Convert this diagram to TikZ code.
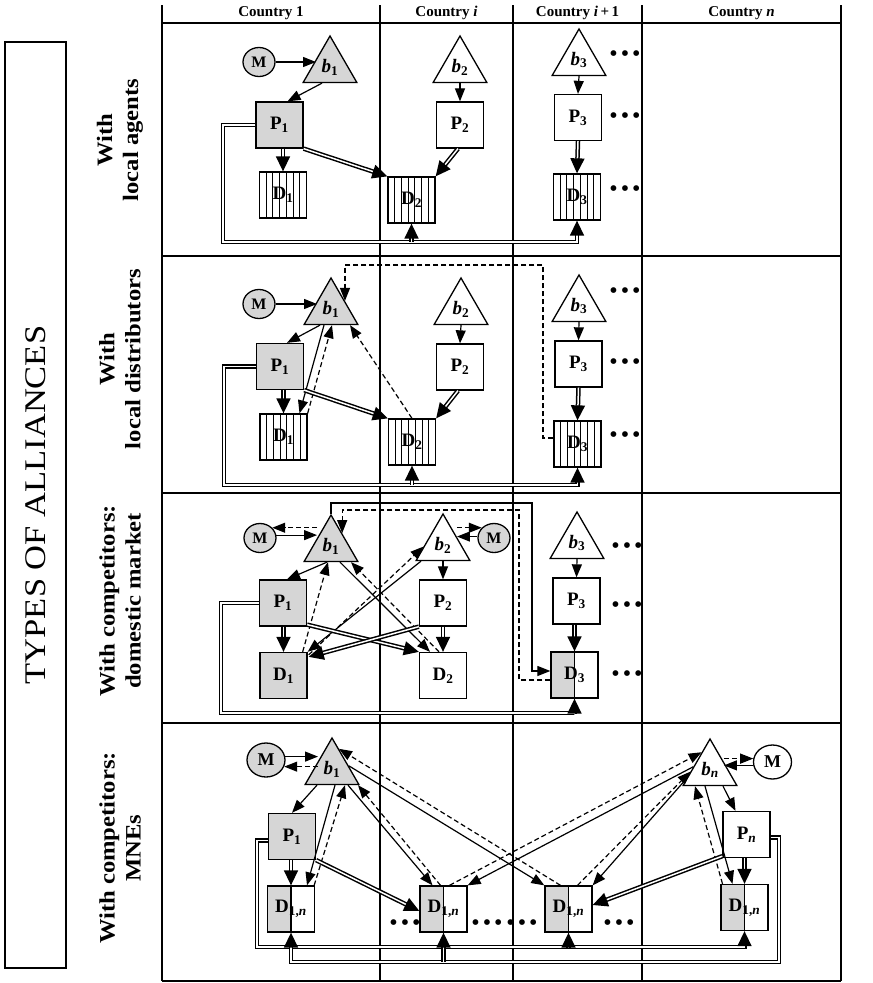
\documentclass[tikz,border=0pt]{standalone}
\usepackage{fontspec}
\setmainfont{Liberation Serif}
\usetikzlibrary{shapes.geometric, arrows.meta, calc}
\definecolor{lgray}{RGB}{214,214,214}

\newcommand{\Pl}[1]{\textbf{P}\textsubscript{\textbf{#1}}}
\newcommand{\bl}[1]{\textbf{\textit{b}}\textsubscript{\textbf{#1}}}
\newcommand{\Dl}[1]{\textbf{D}\textsubscript{\textbf{#1}}}
\newcommand{\etcdots}{\textbullet\hspace{3pt}\textbullet\hspace{3pt}\textbullet}

\begin{document}
\begin{tikzpicture}[x=1pt, y=-1pt,
  frm/.style={line width=1.3pt},
  nfont/.style={font=\fontsize{19}{19}\selectfont},
  tri/.style={regular polygon, regular polygon sides=3, draw, line width=1.3pt,
              minimum size=62pt, inner sep=0pt, nfont},
  box/.style={rectangle, draw, line width=1.3pt, minimum width=47pt,
              minimum height=46pt, inner sep=0pt, nfont},
  hatch/.style={box, path picture={
      \foreach \k in {1,...,6}
        \draw[line width=0.9pt] ($(path picture bounding box.south west)!\k/7!(path picture bounding box.south east)$)
          -- ($(path picture bounding box.north west)!\k/7!(path picture bounding box.north east)$);}},
  halfbox/.style={box, path picture={
      \fill[lgray] (path picture bounding box.south west) rectangle (path picture bounding box.north);
      \draw[line width=1.2pt] (path picture bounding box.south) -- (path picture bounding box.north);}},
  mnode/.style={ellipse, draw, fill=lgray, line width=1.3pt, minimum width=32pt,
                minimum height=29pt, inner sep=0pt, font=\fontsize{16}{16}\selectfont\bfseries},
  mbig/.style={mnode, minimum width=38pt, minimum height=34pt, font=\fontsize{18}{18}\selectfont\bfseries},
  etc/.style={inner sep=0pt, font=\fontsize{24}{24}\selectfont},
  hdr/.style={font=\fontsize{15}{15}\selectfont\bfseries},
  rowlbl/.style={rotate=90, xscale=1.12, align=center, font=\fontsize{22}{26}\selectfont\bfseries},
  arr/.style={-{Triangle[length=13pt,width=10pt]}, line width=1.2pt},
  dsh/.style={arr, dash pattern=on 5pt off 3pt},
  dbl/.style={double, double distance=1.5pt, line width=1.5pt, -{Triangle[length=15pt,width=14pt]}},
]
  \useasboundingbox (0,0) rectangle (873,983);

  % table
  \foreach \x in {162,380,513,642,841} \draw[frm] (\x,5) -- (\x,981);
  \foreach \y in {23,256,493,723,981} \draw[frm] (162,\y) -- (841,\y);
  \draw[frm] (5,42) rectangle (66,968);
  \node[rotate=90, xscale=1.15, font=\fontsize{30}{30}\selectfont] (types) at (36,505) {TYPES OF ALLIANCES};

  \node[hdr] (ca) at (271,13) {Country 1};
  \node[hdr] (cb) at (446.5,13) {Country \textit{i}};
  \node[hdr] (cc) at (577.5,13) {Country \textit{i}\,+\,1};
  \node[hdr] (cd) at (741.5,13) {Country \textit{n}};

  \node[rowlbl] (ra) at (120,140) {With\\local agents};
  \node[rowlbl] (rb) at (120,359) {With\\local distributors};
  \node[rowlbl] (rc) at (120,601) {With competitors:\\domestic market};
  \node[rowlbl] (rd) at (120,848) {With competitors:\\MNEs};

  % row 1: local agents
  \node[mnode] (m1a) at (259,62) {M};
  \node[tri, fill=lgray] (b1a) at (330,67) {\bl{1}};
  \node[box, fill=lgray] (p1a) at (279.5,125) {\Pl{1}};
  \node[hatch] (d1a) at (283,195) {\Dl{1}};
  \node[tri] (b2a) at (460,67) {\bl{2}};
  \node[box] (p2a) at (460,125) {\Pl{2}};
  \node[hatch] (d2a) at (411.5,200) {\Dl{2}};
  \node[tri] (b3a) at (579,60) {\bl{3}};
  \node[box] (p3a) at (578,117.5) {\Pl{3}};
  \node[hatch] (d3a) at (577,197) {\Dl{3}};
  \node[etc] (ea1) at (625,56) {\etcdots};
  \node[etc] (ea2) at (625,118) {\etcdots};
  \node[etc] (ea3) at (625,191) {\etcdots};

  \draw[arr] (m1a.east) -- (m1a.east -| b1a.side 1);
  \draw[arr] ($(b1a.side 2)+(-8,0)$) -- ($(p1a.north)+(8,0)$);
  \draw[arr] (b2a.side 2) -- (p2a.north);
  \draw[arr] (b3a.side 2) -- (p3a.north);
  \draw[dbl] (p1a.south -| d1a.north) -- (d1a.north);
  \draw[dbl] (p1a.south east) -- (d2a.north west);
  \draw[dbl] ($(p2a.south)+(-2,0)$) -- (d2a.north east);
  \draw[dbl] (p3a.south) -- (d3a.north);
  \coordinate (lka) at (223,242);
  \draw[dbl] (p1a.west) -| (lka) -| (d3a.south);
  \draw[dbl] (d2a.south |- lka) -- (d2a.south);

  % row 2: local distributors
  \node[mnode] (m1b) at (259,304) {M};
  \node[tri, fill=lgray] (b1b) at (331,309) {\bl{1}};
  \node[box, fill=lgray] (p1b) at (280,366.5) {\Pl{1}};
  \node[hatch] (d1b) at (283.5,437) {\Dl{1}};
  \node[tri] (b2b) at (461,309) {\bl{2}};
  \node[box] (p2b) at (460,367) {\Pl{2}};
  \node[hatch] (d2b) at (412,442) {\Dl{2}};
  \node[tri] (b3b) at (579,306) {\bl{3}};
  \node[box] (p3b) at (578.5,364) {\Pl{3}};
  \node[hatch] (d3b) at (577.5,444) {\Dl{3}};
  \node[etc] (eb1) at (625,293) {\etcdots};
  \node[etc] (eb2) at (625,364) {\etcdots};
  \node[etc] (eb3) at (625,437) {\etcdots};

  \draw[arr] (m1b.east) -- (m1b.east -| b1b.side 1);
  \draw[arr] ($(b1b.side 2)+(-11,0)$) -- ($(p1b.north)+(7,0)$);
  \draw[arr] ($(b1b.side 2)+(-7,0)$) -- ($(d1b.north)+(16,0)$);
  \draw[dsh] (d1b.north east) -- ($(b1b.side 2)+(1,0)$);
  \draw[dsh] (d2b.north) -- ($(b1b.side 2)+(19,0)$);
  \coordinate (tdb) at (543,265);
  \draw[dsh] ($(d3b.west)+(0,-6)$) -| (tdb) -| (b1b.side 3);
  \draw[arr] (b2b.side 2) -- (p2b.north);
  \draw[arr] (b3b.side 2) -- (p3b.north);
  \draw[dbl] (p1b.south -| d1b.north) -- (d1b.north);
  \draw[dbl] (p1b.south east) -- (d2b.north west);
  \draw[dbl] ($(p2b.south)+(-2,0)$) -- (d2b.north east);
  \draw[dbl] (p3b.south) -- (d3b.north);
  \coordinate (lkb) at (224,485);
  \draw[dbl] (p1b.west) -| (lkb) -| (d3b.south);
  \draw[dbl] (d2b.south |- lkb) -- (d2b.south);

  % row 3: competitors, domestic market
  \node[mnode] (m1c) at (260,538) {M};
  \node[tri, fill=lgray] (b1c) at (331,546) {\bl{1}};
  \node[mnode] (m2c) at (494,538) {M};
  \node[tri] (b2c) at (443,545) {\bl{2}};
  \node[box, fill=lgray] (p1c) at (283,603) {\Pl{1}};
  \node[box, fill=lgray] (d1c) at (283.5,675.5) {\Dl{1}};
  \node[box] (p2c) at (443,603) {\Pl{2}};
  \node[box] (d2c) at (443,675.5) {\Dl{2}};
  \node[tri] (b3c) at (577,543) {\bl{3}};
  \node[box] (p3c) at (576.5,601) {\Pl{3}};
  \node[halfbox] (d3c) at (574.5,675) {\Dl{3}};
  \node[etc] (ec1) at (627,548) {\etcdots};
  \node[etc] (ec2) at (627,607) {\etcdots};
  \node[etc] (ec3) at (627,676) {\etcdots};

  \draw[arr] (m1c.10) -- (m1c.10 -| b1c.side 1);
  \draw[dsh] (b1c.side 1 |- m1c.40) -- (m1c.40);
  \draw[arr] (m2c.175) -- (m2c.175 -| b2c.side 3);
  \draw[dsh] (b2c.side 3 |- m2c.140) -- (m2c.140);
  \draw[arr] ($(b1c.side 2)+(-4,0)$) -- ($(p1c.north)+(4,0)$);
  \draw[arr] ($(b1c.side 2)+(9,0)$) -- ($(d2c.north)+(-13,0)$);
  \draw[dsh] ($(d2c.north)+(-4,0)$) -- ($(b1c.side 2)+(20,0)$);
  \draw[dsh] ($(d1c.north east)+(-5,0)$) -- ($(b1c.side 2)+(-3,0)$);
  \draw[arr] ($(b2c.side 2)+(-22,0)$) -- (d1c.north east);
  \draw[dsh] ($(d1c.north east)+(1,3)$) -- ($(b2c.corner 2)!0.3!(b2c.corner 1)$);
  \draw[arr] (b2c.side 2) -- (p2c.north);
  \draw[arr] (b3c.side 2) -- (p3c.north);
  \draw[dbl] (p1c.south -| d1c.north) -- (d1c.north);
  \draw[dbl] (p2c.south) -- (d2c.north);
  \draw[dbl] (p3c.south -| d3c.north) -- (d3c.north);
  \draw[dbl] ($(p1c.south east)+(0,-2)$) -- (d2c.north west);
  \draw[dbl] (p2c.south west) -- ($(d1c.north east)+(1,5)$);
  \coordinate (tsc) at (532,503);
  \draw[arr] (b1c.corner 1) |- (tsc) |- ($(d3c.west)+(0,-4)$);
  \coordinate (tdc) at (519,510);
  \draw[dsh] ($(d3c.west)+(0,5)$) -| (tdc) -| ($(b1c.corner 1)!0.4!(b1c.corner 3)$);
  \coordinate (lkc) at (221,713);
  \draw[dbl] (p1c.west) -| (lkc) -| (d3c.south);

  % row 4: competitors, MNEs
  \node[mbig] (m1d) at (266,760) {M};
  \node[tri, fill=lgray] (b1d) at (332,769) {\bl{1}};
  \node[box, fill=lgray] (p1d) at (292,836.5) {\Pl{1}};
  \node[halfbox] (d1d) at (291,909) {\Dl{1,\textit{n}}};
  \node[halfbox] (d2d) at (443.5,909) {\Dl{1,\textit{n}}};
  \node[halfbox] (d3d) at (568.5,909) {\Dl{1,\textit{n}}};
  \node[tri] (bnd) at (710,770) {\bl{\textit{n}}};
  \node[mbig, fill=white] (m2d) at (772.5,762) {M};
  \node[box] (pnd) at (746.5,834.5) {\Pl{\textit{n}}};
  \node[halfbox] (d4d) at (744.5,907.5) {\Dl{1,\textit{n}}};
  \node[etc] (ed1) at (405,925) {\etcdots};
  \node[etc] (ed2) at (487,925) {\etcdots};
  \node[etc] (ed3) at (522,925) {\etcdots};
  \node[etc] (ed4) at (619,925) {\etcdots};

  \draw[arr] (m1d.10) -- (m1d.10 -| b1d.side 1);
  \draw[dsh] (b1d.side 1 |- m1d.-20) -- (m1d.-20);
  \draw[dsh] (bnd.side 3 |- m2d.170) -- (m2d.170);
  \draw[arr] (m2d.-170) -- (m2d.-170 -| bnd.side 3);
  \draw[arr] ($(b1d.side 2)+(-15,0)$) -- (p1d.north);
  \draw[dbl] (p1d.south -| d1d.north) -- (d1d.north);
  \draw[arr] ($(b1d.side 2)+(3,0)$) -- ($(d1d.north)+(16,0)$);
  \draw[dsh] ($(d1d.north east)+(-1,0)$) -- ($(b1d.side 2)+(13,0)$);
  \draw[arr] ($(b1d.side 2)+(16,0)$) -- ($(d2d.north)+(-11,0)$);
  \draw[dsh] ($(d2d.north)+(-3,0)$) -- ($(b1d.corner 3)+(-2,0)$);
  \draw[arr] ($(b1d.corner 1)!0.6!(b1d.corner 3)$) -- (d3d.north west);
  \draw[dsh] ($(d3d.north)+(-8,0)$) -- ($(b1d.corner 1)!0.25!(b1d.corner 3)$);
  \draw[arr] ($(bnd.corner 1)!0.6!(bnd.corner 2)$) -- (d2d.north east);
  \draw[dsh] ($(d2d.north)+(6,0)$) -- ($(bnd.corner 1)!0.3!(bnd.corner 2)$);
  \draw[arr] ($(bnd.corner 1)!0.85!(bnd.corner 2)$) -- (d3d.north east);
  \draw[dsh] ($(d3d.north)+(9,0)$) -- ($(bnd.corner 1)!0.7!(bnd.corner 2)$);
  \draw[arr] ($(bnd.side 2)+(-5,0)$) -- ($(d4d.north)+(-12,0)$);
  \draw[dsh] ($(d4d.north)+(-22,0)$) -- ($(bnd.side 2)+(-15,0)$);
  \draw[arr] ($(bnd.side 2)+(13,0)$) -- ($(pnd.north)+(-11,0)$);
  \draw[dbl] (pnd.south -| d4d.north) -- (d4d.north);
  \draw[dbl] ($(pnd.south west)+(0,-2)$) -- ($(d3d.east)+(0,-4)$);
  \draw[dbl] (p1d.south east) -- ($(d2d.west)+(0,2)$);
  \coordinate (lkd) at (257,947);
  \draw[dbl] ($(p1d.west)+(0,4)$) -| (lkd) -| (d4d.south);
  \draw[dbl] (d3d.south |- lkd) -- (d3d.south);
  \coordinate (lnd) at (779,962);
  \draw[dbl] ($(pnd.east)+(0,3)$) -| (lnd) -| (d1d.south);
  \draw[dbl] (d2d.south |- lnd) -- (d2d.south);
\end{tikzpicture}
\end{document}
